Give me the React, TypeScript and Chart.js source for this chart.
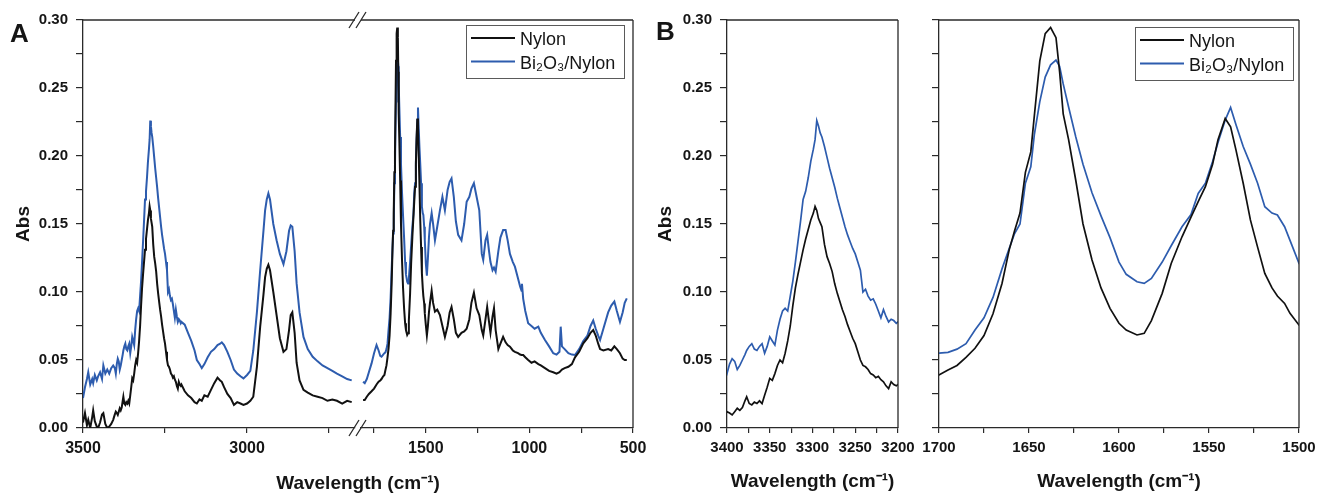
import React, { useEffect, useRef } from 'react';
import { Chart, registerables } from 'chart.js';

Chart.register(...registerables);

// ---------- DATA ----------
const seriesLabels = ['Nylon', 'Bi₂O₃/Nylon'];
const seriesColors = ['#111111', '#2d5cae'];

// N-H / C-H stretching region (cm-1, decreasing)
const highWavenumbers = [
  3500, 3494, 3488, 3484, 3478, 3472, 3469, 3464, 3458, 3454, 3448, 3442, 3438, 3432, 3426, 3420, 3414, 3408, 3403,
  3400, 3397, 3394, 3391, 3388, 3385, 3382, 3379, 3377, 3374, 3371, 3368, 3365, 3362, 3359, 3356, 3353, 3350, 3347, 3344,
  3341, 3338, 3335, 3332, 3329, 3326, 3323, 3320, 3317, 3314, 3311, 3308, 3305, 3302, 3299, 3297, 3295, 3293, 3291, 3289,
  3286, 3283, 3280, 3277, 3274, 3271, 3268, 3265, 3262, 3259, 3256, 3253, 3250, 3247, 3244, 3241, 3238, 3235, 3232, 3229,
  3226, 3223, 3220, 3217, 3214, 3211, 3208, 3205, 3202, 3200,
  3190, 3180, 3170, 3160, 3153, 3145, 3138, 3130, 3120, 3110, 3100, 3090, 3082, 3077, 3070, 3060, 3050, 3040, 3030, 3020,
  3011, 3000, 2990, 2981, 2970, 2960, 2950, 2945, 2940, 2935, 2930, 2920, 2910, 2900, 2889, 2880, 2872, 2867, 2862, 2855,
  2849, 2840, 2828, 2815, 2800, 2785, 2770, 2755, 2740, 2726, 2710, 2695, 2681,
];
const nylonHigh = [
  0.004, 0.011, 0.002, 0.006, 0.000, 0.008, 0.013, 0.005, 0.001, 0.000, 0.004, 0.010, 0.011, 0.003, 0.000, 0.001, 0.003, 0.006, 0.010,
  0.012, 0.011, 0.0096, 0.012, 0.0145, 0.013, 0.015, 0.020, 0.023, 0.018, 0.017, 0.019, 0.018, 0.020, 0.018, 0.024, 0.030, 0.0365, 0.035, 0.040,
  0.046, 0.050, 0.048, 0.055, 0.064, 0.075, 0.090, 0.103, 0.113, 0.122, 0.131, 0.139, 0.146, 0.153, 0.158, 0.163, 0.160, 0.154, 0.151, 0.148,
  0.135, 0.126, 0.121, 0.115, 0.106, 0.099, 0.093, 0.087, 0.082, 0.076, 0.071, 0.066, 0.062, 0.056, 0.050, 0.046, 0.045, 0.043, 0.040, 0.039,
  0.037, 0.038, 0.0355, 0.034, 0.031, 0.029, 0.034, 0.032, 0.031, 0.032,
  0.027, 0.024, 0.022, 0.019, 0.018, 0.021, 0.020, 0.024, 0.023, 0.028, 0.033, 0.037, 0.035, 0.034, 0.030, 0.025, 0.022, 0.017, 0.019, 0.018,
  0.017, 0.018, 0.020, 0.023, 0.045, 0.0745, 0.098, 0.111, 0.117, 0.120, 0.116, 0.100, 0.083, 0.066, 0.056, 0.058, 0.072, 0.083, 0.085, 0.070,
  0.048, 0.035, 0.028, 0.026, 0.024, 0.023, 0.022, 0.020, 0.021, 0.020, 0.018, 0.020, 0.019,
];
const biHigh = [
  0.022, 0.030, 0.036, 0.041, 0.032, 0.036, 0.033, 0.039, 0.035, 0.038, 0.041, 0.036, 0.046, 0.040, 0.043, 0.040, 0.044, 0.046, 0.044,
  0.040, 0.047, 0.051, 0.049, 0.043, 0.046, 0.050, 0.054, 0.057, 0.060, 0.062, 0.058, 0.057, 0.060, 0.062, 0.055, 0.060, 0.067, 0.064, 0.061,
  0.072, 0.080, 0.086, 0.088, 0.086, 0.097, 0.108, 0.122, 0.137, 0.152, 0.168, 0.174, 0.184, 0.196, 0.205, 0.212, 0.226, 0.222, 0.217, 0.214,
  0.207, 0.199, 0.191, 0.184, 0.177, 0.169, 0.162, 0.155, 0.148, 0.142, 0.137, 0.132, 0.128, 0.122, 0.116, 0.100, 0.102, 0.097, 0.094, 0.095,
  0.091, 0.086, 0.081, 0.087, 0.082, 0.078, 0.080, 0.079, 0.077, 0.078,
  0.076, 0.070, 0.064, 0.057, 0.050, 0.047, 0.044, 0.047, 0.052, 0.056, 0.058, 0.061, 0.062, 0.063, 0.061, 0.056, 0.050, 0.043, 0.040, 0.038,
  0.0365, 0.039, 0.042, 0.057, 0.085, 0.116, 0.145, 0.160, 0.168, 0.1725, 0.168, 0.150, 0.138, 0.128, 0.1205, 0.130, 0.145, 0.149, 0.148, 0.130,
  0.1065, 0.085, 0.067, 0.058, 0.0524, 0.049, 0.046, 0.044, 0.042, 0.040, 0.038, 0.036, 0.035,
];

// Fingerprint region (cm-1, decreasing)
const lowWavenumbers = [
  1803, 1795, 1785, 1775, 1762, 1750, 1738, 1728, 1720, 1714, 1706,
  1700, 1695, 1690, 1685, 1680, 1675, 1670, 1665, 1661, 1658,
  1655, 1652, 1649, 1647, 1644, 1641, 1638, 1635, 1633, 1631,
  1628, 1624, 1620, 1615, 1610, 1605, 1600, 1596, 1590, 1586,
  1582, 1576, 1571, 1565, 1560, 1556, 1552, 1548, 1545, 1541,
  1538, 1535, 1531, 1527, 1523, 1519, 1515, 1512, 1508, 1505,
  1500, 1495, 1490, 1485, 1480, 1472, 1465, 1456, 1445, 1432,
  1420, 1408, 1395, 1385, 1376, 1365, 1355, 1344, 1328, 1315,
  1303, 1290, 1280, 1268, 1255, 1242, 1230, 1223, 1212, 1204,
  1195, 1188, 1178, 1171, 1163, 1150, 1140, 1127, 1115, 1105,
  1094, 1080, 1070, 1055, 1045, 1038, 1036, 1030, 1020, 1006,
  990, 975, 957, 945, 925, 905, 885, 869, 855, 849,
  843, 830, 812, 795, 780, 760, 740, 720, 705, 692,
  680, 668, 659, 643, 620, 605, 590, 578, 563, 550,
  540, 530,
];
const nylonLow = [
  0.0206, 0.0206, 0.023, 0.025, 0.027, 0.029, 0.032, 0.034, 0.035, 0.036, 0.038,
  0.039, 0.0426, 0.046, 0.052, 0.0586, 0.068, 0.084, 0.1063, 0.131, 0.145,
  0.158, 0.188, 0.203, 0.230, 0.270, 0.290, 0.2945, 0.287, 0.262, 0.231,
  0.212, 0.182, 0.150, 0.1235, 0.103, 0.088, 0.077, 0.072, 0.0684, 0.0696,
  0.079, 0.099, 0.121, 0.1406, 0.155, 0.1664, 0.1774, 0.194, 0.212, 0.2276,
  0.2215, 0.2043, 0.180, 0.153, 0.133, 0.1137, 0.103, 0.097, 0.0916, 0.0843,
  0.0757, 0.068, 0.075, 0.085, 0.092, 0.101, 0.092, 0.0855, 0.087, 0.083,
  0.075, 0.067, 0.075, 0.085, 0.089, 0.080, 0.070, 0.067, 0.070, 0.071,
  0.073, 0.080, 0.092, 0.0995, 0.088, 0.083, 0.072, 0.068, 0.080, 0.089,
  0.078, 0.070, 0.082, 0.088, 0.072, 0.058, 0.062, 0.067, 0.063, 0.061,
  0.0598, 0.057, 0.056, 0.055, 0.054, 0.0537, 0.0537, 0.0537, 0.052, 0.050,
  0.048, 0.049, 0.047, 0.046, 0.044, 0.042, 0.041, 0.040, 0.041, 0.042,
  0.043, 0.044, 0.045, 0.047, 0.052, 0.056, 0.0622, 0.066, 0.070, 0.072,
  0.068, 0.062, 0.058, 0.057, 0.058, 0.057, 0.060, 0.058, 0.055, 0.051,
  0.050, 0.050,
];
const biLow = [
  0.034, 0.033, 0.036, 0.041, 0.0475, 0.055, 0.061, 0.057, 0.053, 0.0524, 0.054,
  0.055, 0.0556, 0.058, 0.062, 0.072, 0.081, 0.096, 0.117, 0.132, 0.143,
  0.150, 0.180, 0.192, 0.216, 0.240, 0.258, 0.267, 0.2705, 0.266, 0.253,
  0.236, 0.214, 0.194, 0.173, 0.156, 0.140, 0.122, 0.113, 0.1075, 0.1063,
  0.110, 0.122, 0.134, 0.148, 0.157, 0.1725, 0.180, 0.196, 0.210, 0.2264,
  0.2357, 0.223, 0.207, 0.194, 0.180, 0.1627, 0.158, 0.1566, 0.148, 0.138,
  0.121, 0.112, 0.125, 0.140, 0.150, 0.158, 0.150, 0.138, 0.148, 0.160,
  0.170, 0.160, 0.175, 0.181, 0.1835, 0.170, 0.152, 0.142, 0.138, 0.150,
  0.1664, 0.170, 0.176, 0.180, 0.170, 0.160, 0.128, 0.1235, 0.138, 0.142,
  0.130, 0.122, 0.116, 0.118, 0.115, 0.130, 0.140, 0.1455, 0.1455, 0.138,
  0.128, 0.122, 0.1186, 0.110, 0.104, 0.101, 0.106, 0.095, 0.086, 0.077,
  0.075, 0.073, 0.0745, 0.070, 0.0647, 0.060, 0.055, 0.054, 0.056, 0.0745,
  0.060, 0.058, 0.055, 0.054, 0.0537, 0.058, 0.064, 0.068, 0.075, 0.079,
  0.073, 0.068, 0.0647, 0.073, 0.085, 0.090, 0.093, 0.086, 0.078, 0.085,
  0.092, 0.0953,
];

// Tick values
const yMajorTicks = [0, 0.05, 0.1, 0.15, 0.2, 0.25, 0.3];
const yMinorTicks = [0.025, 0.075, 0.125, 0.175, 0.225, 0.275];
const aLeftMajor = [3500, 3000];
const aLeftMinor = [3250, 2750];
const aRightMajor = [1500, 1000, 500];
const aRightMinor = [1750, 1250, 750];
const bLeftMajor = [3400, 3350, 3300, 3250, 3200];
const bLeftMinor = [3375, 3325, 3275, 3225];
const bRightMajor = [1700, 1650, 1600, 1550, 1500];
const bRightMinor = [1675, 1625, 1575, 1525];

const yAxisTitle = 'Abs';
const xAxisTitle = 'Wavelength (cm⁻¹)';

// ---------- STYLE ----------
const FONT = '"Liberation Sans", Arial, Helvetica, sans-serif';
const AXIS_COLOR = '#2a2a2a';
const TEXT_COLOR = '#151515';
const W = 1319;
const H = 494;

type PanelSpec = {
  xs: number[];
  ys: number[][];
  xMin: number;
  xMax: number;
  xMajor: number[];
  xMinor: number[];
  area: { left: number; right: number; top: number; bottom: number };
  yWidth: number;
  showYAxis: boolean;
  showYLabels: boolean;
  yTitle: boolean;
  yTitlePad: number;
  xTitle: boolean;
  xTickSize: number;
  lineWidth: number;
  frameTop: boolean;
  frameRight: boolean;
  legend?: { right: number; top: number };
  breakMarks?: boolean;
};

function makeChart(canvas: HTMLCanvasElement, p: PanelSpec) {
  const xAxisHeight = H - p.area.bottom;
  const isMajorY = (v: number) => yMajorTicks.some((m) => Math.abs(m - v) < 1e-9);

  const framePlugin = {
    id: 'frameLines',
    afterDraw(chart: any) {
      const { ctx, chartArea } = chart;
      ctx.save();
      ctx.strokeStyle = AXIS_COLOR;
      ctx.lineWidth = 1.3;
      ctx.beginPath();
      if (p.frameTop) {
        ctx.moveTo(chartArea.left, chartArea.top);
        ctx.lineTo(chartArea.right, chartArea.top);
      }
      if (p.frameRight) {
        ctx.moveTo(chartArea.right, chartArea.top);
        ctx.lineTo(chartArea.right, chartArea.bottom);
      }
      ctx.stroke();
      if (p.breakMarks) {
        const r = chartArea.right;
        ctx.beginPath();
        [chartArea.top, chartArea.bottom].forEach((y: number) => {
          ctx.moveTo(r - 6, y + 8);
          ctx.lineTo(r + 4, y - 8);
          ctx.moveTo(r + 1, y + 8);
          ctx.lineTo(r + 11, y - 8);
        });
        ctx.stroke();
      }
      ctx.restore();
    },
  };

  const legendPlugin = {
    id: 'insideLegend',
    afterDraw(chart: any) {
      if (!p.legend) return;
      const { ctx, chartArea } = chart;
      const w = 158;
      const h = 53;
      const left = chartArea.right - p.legend.right - w;
      const top = chartArea.top + p.legend.top;
      ctx.save();
      ctx.fillStyle = '#ffffff';
      ctx.fillRect(left, top, w, h);
      ctx.strokeStyle = '#5a5a5a';
      ctx.lineWidth = 1;
      ctx.strokeRect(Math.round(left) + 0.5, Math.round(top) + 0.5, w, h);
      chart.data.datasets.forEach((ds: any, i: number) => {
        const ly = top + 13 + i * 23.5;
        ctx.strokeStyle = ds.borderColor;
        ctx.lineWidth = 2;
        ctx.beginPath();
        ctx.moveTo(left + 5, ly);
        ctx.lineTo(left + 49, ly);
        ctx.stroke();
        ctx.fillStyle = TEXT_COLOR;
        ctx.font = `18px ${FONT}`;
        ctx.textBaseline = 'alphabetic';
        ctx.textAlign = 'left';
        ctx.fillText(ds.label, left + 54, top + 20 + i * 23.5);
      });
      ctx.restore();
    },
  };

  return new Chart(canvas, {
    type: 'line',
    data: {
      datasets: seriesLabels.map((label, i) => ({
        label,
        data: p.xs.map((x, j) => ({ x, y: p.ys[i][j] })),
        borderColor: seriesColors[i],
        backgroundColor: seriesColors[i],
        borderWidth: p.lineWidth,
        pointRadius: 0,
        tension: 0,
        fill: false,
      })),
    },
    options: {
      responsive: false,
      animation: false,
      events: [],
      layout: {
        padding: {
          left: p.area.left - (p.showYAxis ? p.yWidth : 0),
          right: W - p.area.right,
          top: p.area.top,
          bottom: 0,
        },
      },
      plugins: {
        legend: { display: false },
        tooltip: { enabled: false },
      },
      scales: {
        x: {
          type: 'linear',
          reverse: true,
          min: p.xMin,
          max: p.xMax,
          afterBuildTicks: (s: any) => {
            s.ticks = [...p.xMajor, ...p.xMinor].sort((a, b) => a - b).map((value) => ({ value }));
          },
          afterFit: (s: any) => {
            s.height = xAxisHeight;
          },
          ticks: {
            autoSkip: false,
            maxRotation: 0,
            minRotation: 0,
            padding: 6,
            color: TEXT_COLOR,
            font: { family: FONT, size: p.xTickSize, weight: 'bold' },
            callback: (v: any) => (p.xMajor.includes(Number(v)) ? String(v) : ''),
          },
          grid: {
            display: true,
            drawOnChartArea: false,
            drawTicks: true,
            tickLength: 5,
            color: AXIS_COLOR,
            lineWidth: 1.2,
          },
          border: { display: true, color: AXIS_COLOR, width: 1.3 },
          title: {
            display: p.xTitle,
            text: xAxisTitle,
            color: TEXT_COLOR,
            font: { family: FONT, size: 19, weight: 'bold' },
            padding: { top: 0, bottom: 1 },
          },
        },
        y: {
          type: 'linear',
          display: p.showYAxis,
          min: 0,
          max: 0.3,
          afterBuildTicks: (s: any) => {
            s.ticks = [...yMajorTicks, ...yMinorTicks].sort((a, b) => a - b).map((value) => ({ value }));
          },
          afterFit: (s: any) => {
            s.width = p.yWidth;
          },
          ticks: {
            autoSkip: false,
            padding: 8,
            color: TEXT_COLOR,
            font: { family: FONT, size: 15, weight: 'bold' },
            callback: (v: any) => (p.showYLabels && isMajorY(Number(v)) ? Number(v).toFixed(2) : ''),
          },
          grid: {
            display: true,
            drawOnChartArea: false,
            drawTicks: true,
            tickLength: 7,
            color: AXIS_COLOR,
            lineWidth: 1.2,
          },
          border: { display: true, color: AXIS_COLOR, width: 1.3 },
          title: {
            display: p.yTitle,
            text: yAxisTitle,
            color: TEXT_COLOR,
            font: { family: FONT, size: 19, weight: 'bold' },
            padding: { top: p.yTitlePad, bottom: 0 },
          },
        },
      },
    } as any,
    plugins: [framePlugin, legendPlugin],
  });
}

export default function App() {
  const refs = [
    useRef<HTMLCanvasElement>(null),
    useRef<HTMLCanvasElement>(null),
    useRef<HTMLCanvasElement>(null),
    useRef<HTMLCanvasElement>(null),
  ];

  useEffect(() => {
    const specs: PanelSpec[] = [
      {
        xs: highWavenumbers, ys: [nylonHigh, biHigh],
        xMin: 2671, xMax: 3500, xMajor: aLeftMajor, xMinor: aLeftMinor,
        area: { left: 83, right: 355, top: 20, bottom: 428 },
        yWidth: 83, showYAxis: true, showYLabels: true, yTitle: true, yTitlePad: 12,
        xTitle: false, xTickSize: 16, lineWidth: 2, frameTop: true, frameRight: false, breakMarks: true,
      },
      {
        xs: lowWavenumbers, ys: [nylonLow, biLow],
        xMin: 500, xMax: 1813, xMajor: aRightMajor, xMinor: aRightMinor,
        area: { left: 361, right: 633, top: 20, bottom: 428 },
        yWidth: 0, showYAxis: false, showYLabels: false, yTitle: false, yTitlePad: 0,
        xTitle: false, xTickSize: 16, lineWidth: 2, frameTop: true, frameRight: true,
        legend: { right: 9, top: 5 },
      },
      {
        xs: highWavenumbers, ys: [nylonHigh, biHigh],
        xMin: 3200, xMax: 3400, xMajor: bLeftMajor, xMinor: bLeftMinor,
        area: { left: 727, right: 898, top: 20, bottom: 428 },
        yWidth: 87, showYAxis: true, showYLabels: true, yTitle: true, yTitlePad: 14.6,
        xTitle: true, xTickSize: 15, lineWidth: 1.7, frameTop: true, frameRight: true,
      },
      {
        xs: lowWavenumbers, ys: [nylonLow, biLow],
        xMin: 1500, xMax: 1700, xMajor: bRightMajor, xMinor: bRightMinor,
        area: { left: 939, right: 1299, top: 20, bottom: 428 },
        yWidth: 8, showYAxis: true, showYLabels: false, yTitle: false, yTitlePad: 0,
        xTitle: true, xTickSize: 15, lineWidth: 1.7, frameTop: true, frameRight: true,
        legend: { right: 6, top: 7 },
      },
    ];
    const charts = specs.map((s, i) => makeChart(refs[i].current as HTMLCanvasElement, s));
    return () => charts.forEach((c) => c.destroy());
  }, []);

  const canvasStyle: React.CSSProperties = {
    position: 'absolute', left: 0, top: 0, width: W, height: H,
  };
  const panelLetter: React.CSSProperties = {
    position: 'absolute', fontFamily: FONT, fontWeight: 'bold', fontSize: 26,
    lineHeight: '26px', color: TEXT_COLOR,
  };

  return (
    <div style={{ position: 'absolute', left: 0, top: 0, width: W, height: H, background: '#ffffff', overflow: 'hidden' }}>
      {refs.map((r, i) => (
        <canvas key={i} ref={r} width={W} height={H} style={canvasStyle} />
      ))}
      <div style={{ ...panelLetter, left: 10, top: 20 }}>A</div>
      <div style={{ ...panelLetter, left: 656, top: 18 }}>B</div>
      <div
        style={{
          position: 'absolute', left: 0, width: 716, top: 473, textAlign: 'center',
          fontFamily: FONT, fontWeight: 'bold', fontSize: 19, lineHeight: '19px', color: TEXT_COLOR,
        }}
      >
        {xAxisTitle}
      </div>
    </div>
  );
}
